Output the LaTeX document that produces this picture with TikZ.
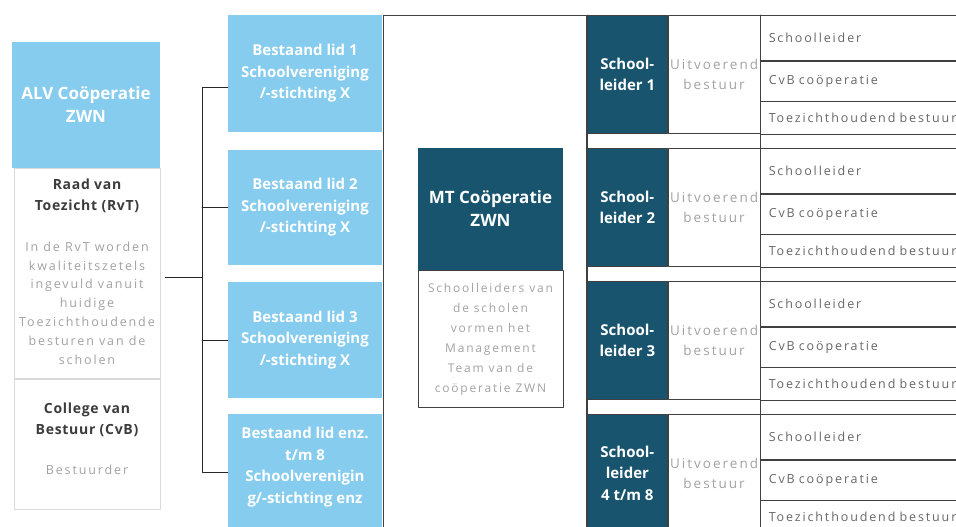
\documentclass[tikz,border=0pt]{standalone}
\usepackage{fontspec}
\setmainfont{Open Sans}
\newfontfamily\dunfont[LetterSpace=15]{Open Sans}
\newfontfamily\kopfont[LetterSpace=5]{Open Sans}
\definecolor{zwnlicht}{HTML}{86CCEE}
\definecolor{zwndonker}{HTML}{18546E}
\definecolor{zwngrijs}{HTML}{A2A2A2}
\definecolor{zwntekst}{HTML}{3C3C3C}
\newcommand{\kop}{\fontsize{15}{21.5}\selectfont\bfseries}
\newcommand{\grotekop}{\fontsize{17}{23}\selectfont\bfseries}
\newcommand{\kopgrijs}{\kopfont\fontsize{14}{21}\selectfont\bfseries}
\newcommand{\dun}{\dunfont\fontsize{12.5}{18.8}\selectfont}
\newcommand{\celtekst}{\dunfont\fontsize{12.5}{14}\selectfont}
\tikzset{
  licht/.style={fill=zwnlicht,text=white,font=\kop,align=center,inner sep=0pt},
  donker/.style={fill=zwndonker,text=white,font=\kop,align=center,inner sep=0pt},
  rand/.style={draw=black!15,line width=0.8pt,fill=white,inner sep=0pt},
  kader/.style={draw=black!75,line width=0.7pt},
  lijn/.style={draw=black!85,line width=0.8pt},
  grijs/.style={text=zwngrijs,font=\dun,align=center,inner sep=0pt},
  kopje/.style={text=zwntekst,font=\kopgrijs,align=center,inner sep=0pt},
  uitv/.style={kader,text=zwngrijs,font=\dunfont\fontsize{13.5}{20}\selectfont,align=center,
    inner sep=0pt,anchor=north west,minimum width=92pt,minimum height=118pt},
  slblok/.style={donker,kader,anchor=north west,minimum width=80pt,minimum height=118pt},
  cel/.style={kader,text=black!60,font=\celtekst,anchor=north west,align=left,
    text width=260pt,inner xsep=8pt,inner ysep=0pt}
}
\begin{document}
\begin{tikzpicture}[x=1pt,y=-1pt,line cap=round,line join=round]
\useasboundingbox (0,0) rectangle (956,527);
\clip (0,0) rectangle (956,527);
% ALV en toezicht
\node[licht,font=\grotekop,minimum width=148pt,minimum height=126pt] (alv) at (86,105) {ALV Coöperatie\\ZWN};
\node[rand,minimum width=146pt,minimum height=210pt,anchor=north] (rvt) at (87,168) {};
\node[rand,minimum width=146pt,minimum height=130pt,anchor=north] (cvb) at (rvt.south) {};
\node[kopje] (rvtkop) at (87,196) {Raad van\\Toezicht (RvT)};
\node[grijs] (rvttekst) at (87,303) {In de RvT worden\\kwaliteitszetels\\ingevuld vanuit\\huidige\\Toezichthoudende\\besturen van de\\scholen};
\node[kopje] (cvbkop) at (87,420) {College van\\Bestuur (CvB)};
\node[grijs] (cvbtekst) at (87,470) {Bestuurder};
% leden
\node[licht,minimum width=154pt,minimum height=117pt] (lid1) at (305,73.5) {Bestaand lid 1\\Schoolvereniging\\/-stichting X};
\node[licht,minimum width=154pt,minimum height=115pt] (lid2) at (305,207.5) {Bestaand lid 2\\Schoolvereniging\\/-stichting X};
\node[licht,minimum width=154pt,minimum height=116pt] (lid3) at (305,340) {Bestaand lid 3\\Schoolvereniging\\/-stichting X};
\node[licht,minimum width=154pt,minimum height=116pt] (lid4) at (305,472) {};
\node[licht,fill=none] (lid4tekst) at (305,467) {Bestaand lid enz.\\t/m 8\\Schoolverenigin\\g/-stichting enz};
% verbindingen
\coordinate (bus) at (202,0);
\coordinate (tak1) at ([yshift=-14pt]lid1.west);
\draw[lijn] ([xshift=5pt,yshift=-4pt]rvt.east) -- ([yshift=-4pt]rvt.east -| bus);
\draw[lijn] (tak1) -- (tak1 -| bus) -- (bus |- lid4.west) -- (lid4.west);
\draw[lijn] (lid2.west) -- (lid2.west -| bus);
\draw[lijn] (lid3.west) -- (lid3.west -| bus);
% MT
\node[kader,minimum width=203pt,minimum height=520pt,anchor=north west,inner sep=0pt] (mtkader) at (383,15) {};
\node[donker,font=\grotekop,minimum width=145pt,minimum height=122pt] (mt) at (490.5,209) {MT Coöperatie\\ZWN};
\node[kader,grijs,font=\dunfont\fontsize{12}{20}\selectfont,anchor=north,minimum width=145pt,minimum height=137pt] (mttekst) at (mt.south) {Schoolleiders van\\de scholen\\vormen het\\Management\\Team van de\\coöperatie ZWN};
% schoolleiders
\node[slblok] (sl1) at (587,15) {School-\\leider 1};
\node[uitv] (uv1) at (sl1.north east) {Uitvoerend\\bestuur};
\node[cel,minimum height=45pt] (sl1a) at (uv1.north east) {Schoolleider};
\node[cel,minimum height=40pt] (sl1b) at (sl1a.south west) {CvB coöperatie};
\node[cel,minimum height=33pt] (sl1c) at (sl1b.south west) {Toezichthoudend bestuur};
\node[slblok] (sl2) at (587,148) {School-\\leider 2};
\node[uitv] (uv2) at (sl2.north east) {Uitvoerend\\bestuur};
\node[cel,minimum height=45pt] (sl2a) at (uv2.north east) {Schoolleider};
\node[cel,minimum height=40pt] (sl2b) at (sl2a.south west) {CvB coöperatie};
\node[cel,minimum height=33pt] (sl2c) at (sl2b.south west) {Toezichthoudend bestuur};
\node[slblok] (sl3) at (587,281) {School-\\leider 3};
\node[uitv] (uv3) at (sl3.north east) {Uitvoerend\\bestuur};
\node[cel,minimum height=45pt] (sl3a) at (uv3.north east) {Schoolleider};
\node[cel,minimum height=40pt] (sl3b) at (sl3a.south west) {CvB coöperatie};
\node[cel,minimum height=33pt] (sl3c) at (sl3b.south west) {Toezichthoudend bestuur};
\node[slblok] (sl4) at (587,414) {School-\\leider\\4 t/m 8};
\node[uitv] (uv4) at (sl4.north east) {Uitvoerend\\bestuur};
\node[cel,minimum height=45pt] (sl4a) at (uv4.north east) {Schoolleider};
\node[cel,minimum height=40pt] (sl4b) at (sl4a.south west) {CvB coöperatie};
\node[cel,minimum height=33pt] (sl4c) at (sl4b.south west) {Toezichthoudend bestuur};
\draw[kader] (sl1.north west) -- (sl4.south west);
\draw[kader] (uv1.north east) -- (uv4.south east);
\end{tikzpicture}
\end{document}
